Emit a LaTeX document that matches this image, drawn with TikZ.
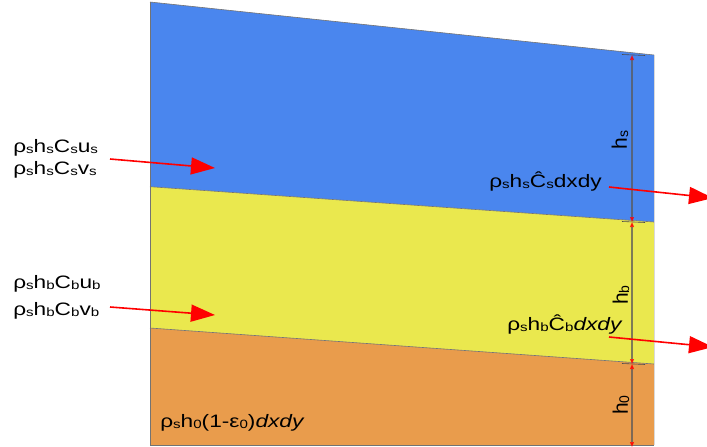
\documentclass[tikz,border=0pt]{standalone}
\usepackage{fontspec}
\setmainfont{Liberation Sans}
\usetikzlibrary{arrows.meta}

% colours of the three layers
\definecolor{layerS}{HTML}{4A86EE}
\definecolor{layerB}{HTML}{EAE84E}
\definecolor{layerO}{HTML}{E99C4C}
\definecolor{fluxred}{HTML}{FF0000}

% subscript set small and a little below the baseline
\newcommand{\lsub}[1]{\raisebox{-1.2pt}{\fontsize{12}{13}\selectfont #1}}
\newcommand{\hsub}[1]{\raisebox{-1.2pt}{\fontsize{14}{15}\selectfont #1}}

\tikzset{
  flux/.style={draw=fluxred, line width=1.6pt,
    -{Triangle[length=24pt, width=17pt]}},
  dimtick/.style={draw=black!70, line width=0.6pt},
  dimline/.style={draw=black!65, opacity=0.75, line width=1.1pt,
    {Triangle[length=5pt,width=4pt,color=fluxred]}-{Triangle[length=5pt,width=4pt,color=fluxred]}},
  label/.style={inner sep=0pt, anchor=base west, xscale=1.26,
    font=\fontsize{18}{22}\selectfont},
  hlabel/.style={inner sep=0pt, rotate=90, font=\fontsize{21}{24}\selectfont},
  edge/.style={draw=black!55, line width=0.6pt}
}

\begin{document}
\begin{tikzpicture}[x=1pt, y=-1pt]
  \useasboundingbox (0,0) rectangle (707,447);

  % corners of the column and of the layer interfaces
  \coordinate (TL) at (150,2);
  \coordinate (TR) at (654,55);
  \coordinate (SL) at (150,186.7);
  \coordinate (SR) at (654,222);
  \coordinate (BL) at (150,328);
  \coordinate (BR) at (654,364);
  \coordinate (OL) at (150,445);
  \coordinate (OR) at (654,445);

  % layers
  \fill[layerS] (TL) -- (TR) -- (SR) -- (SL) -- cycle;
  \fill[layerB] (SL) -- (SR) -- (BR) -- (BL) -- cycle;
  \fill[layerO] (BL) -- (BR) -- (OR) -- (OL) -- cycle;
  \draw[edge] (TL) -- (TR);
  \draw[edge] (SL) -- (SR);
  \draw[edge] (BL) -- (BR);
  \draw[edge] (TL) -- (OL) -- (OR);
  \draw[draw=black!15, line width=0.5pt] (TR) -- (OR);

  % thickness markers
  \coordinate (D0) at (632,55);
  \coordinate (D1) at (632,222);
  \coordinate (D2) at (632,364);
  \coordinate (D3) at (632,447);
  \draw[dimtick] (622,54.5) -- (645,55.5);
  \draw[dimtick] (622,221.5) -- (645,222.5);
  \draw[dimtick] (622,363.5) -- (645,364.5);
  \draw[dimline] (D0) -- (D1);
  \draw[dimline] (D1) -- (D2);
  \draw[dimline] (D2) -- (D3);
  \node[hlabel] (hs) at (620,140) {h\hsub{s}};
  \node[hlabel] (hb) at (621,295) {h\hsub{b}};
  \node[hlabel] (h0) at (621,405) {h\hsub{0}};

  % incoming fluxes
  \node[label] (qs1) at (13,152) {ρ\lsub{s}h\lsub{s}C\lsub{s}u\lsub{s}};
  \node[label] (qs2) at (13,174.5) {ρ\lsub{s}h\lsub{s}C\lsub{s}v\lsub{s}};
  \node[label] (qb1) at (13,288) {ρ\lsub{s}h\lsub{b}C\lsub{b}u\lsub{b}};
  \node[label] (qb2) at (13,315) {ρ\lsub{s}h\lsub{b}C\lsub{b}v\lsub{b}};
  \coordinate (inS0) at (110,159);
  \coordinate (inS1) at (215,168);
  \coordinate (inB0) at (110,307);
  \coordinate (inB1) at (215,315);
  \draw[flux] (inS0) -- (inS1);
  \draw[flux] (inB0) -- (inB1);

  % outgoing fluxes
  \node[label] (es) at (489,187) {ρ\lsub{s}h\lsub{s}Ĉ\lsub{s}dxdy};
  \node[label] (eb) at (507,330) {ρ\lsub{s}h\lsub{b}Ĉ\lsub{b}\textit{dxdy}};
  \coordinate (outS0) at (609,187);
  \coordinate (outS1) at (713,198);
  \coordinate (outB0) at (609,337);
  \coordinate (outB1) at (713,347);
  \draw[flux] (outS0) -- (outS1);
  \draw[flux] (outB0) -- (outB1);

  % bed layer
  \node[label] (e0) at (160,427) {ρ\lsub{s}h\lsub{0}(1-ε\lsub{0})\textit{dxdy}};
\end{tikzpicture}
\end{document}
